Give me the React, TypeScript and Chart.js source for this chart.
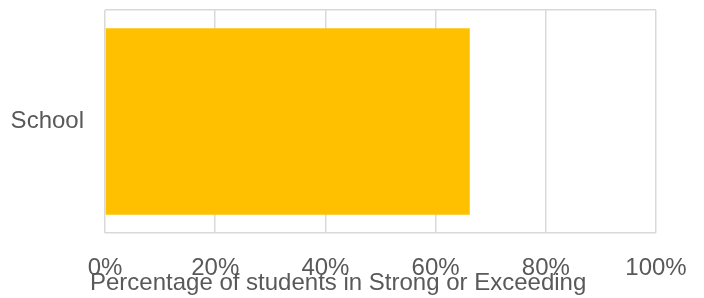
import React, { useEffect, useRef } from "react";
import { Chart, registerables } from "chart.js";

Chart.register(...registerables);

const categories = ["School"];
const values = [66.2];
const xTicks = [0, 20, 40, 60, 80, 100];
const axisTitle = "Percentage of students in Strong or Exceeding";

const FONT_FAMILY = "'Liberation Sans', Arial, sans-serif";
const FONT_SIZE = 24;
const TEXT_COLOR = "#595959";

const titlePlugin = {
  id: "axisTitleOffset",
  afterDraw(chart: any) {
    const { ctx, chartArea } = chart;
    ctx.save();
    ctx.font = `${FONT_SIZE}px ${FONT_FAMILY}`;
    ctx.fillStyle = TEXT_COLOR;
    ctx.textAlign = "left";
    ctx.textBaseline = "alphabetic";
    ctx.fillText(axisTitle, chartArea.left - 15, chartArea.bottom + 57);
    ctx.restore();
  },
};

export default function App() {
  const ref = useRef<HTMLCanvasElement>(null);
  useEffect(() => {
    document.body.style.margin = "0";
    const ctx = ref.current!.getContext("2d")!;
    const font = { family: FONT_FAMILY, size: FONT_SIZE };
    const chart = new Chart(ctx, {
      type: "bar",
      data: {
        labels: categories,
        datasets: [
          {
            data: values,
            backgroundColor: "#FFC000",
            borderWidth: 0,
            barPercentage: 0.837,
            categoryPercentage: 1,
          },
        ],
      },
      options: {
        indexAxis: "y",
        animation: false,
        responsive: false,
        maintainAspectRatio: false,
        layout: { padding: { top: 10, right: 48, bottom: 0, left: 0 } },
        plugins: { legend: { display: false }, tooltip: { enabled: false } },
        scales: {
          x: {
            min: 0,
            max: 100,
            afterBuildTicks: (s: any) => {
              s.ticks = xTicks.map((v) => ({ value: v }));
            },
            afterFit: (s: any) => {
              s.height = 65;
              s.paddingLeft = 0;
              s.paddingRight = 0;
            },
            grid: { color: "#d9d9d9", lineWidth: 1.5, drawTicks: false },
            border: { display: false },
            ticks: {
              color: TEXT_COLOR,
              font,
              padding: 21,
              maxRotation: 0,
              callback: (v: any) => v + "%",
            },
          },
          y: {
            afterFit: (s: any) => {
              s.width = 105;
              s.paddingTop = 0;
              s.paddingBottom = 0;
            },
            grid: { color: "#d9d9d9", lineWidth: 1.5, drawTicks: false },
            border: { display: false },
            ticks: { color: TEXT_COLOR, font, padding: 21 },
          },
        },
      },
      plugins: [titlePlugin],
    });
    return () => chart.destroy();
  }, []);
  return (
    <div style={{ position: "absolute", left: 0, top: 0, width: 704, height: 298 }}>
      <canvas ref={ref} width={704} height={298} style={{ width: 704, height: 298 }} />
    </div>
  );
}
